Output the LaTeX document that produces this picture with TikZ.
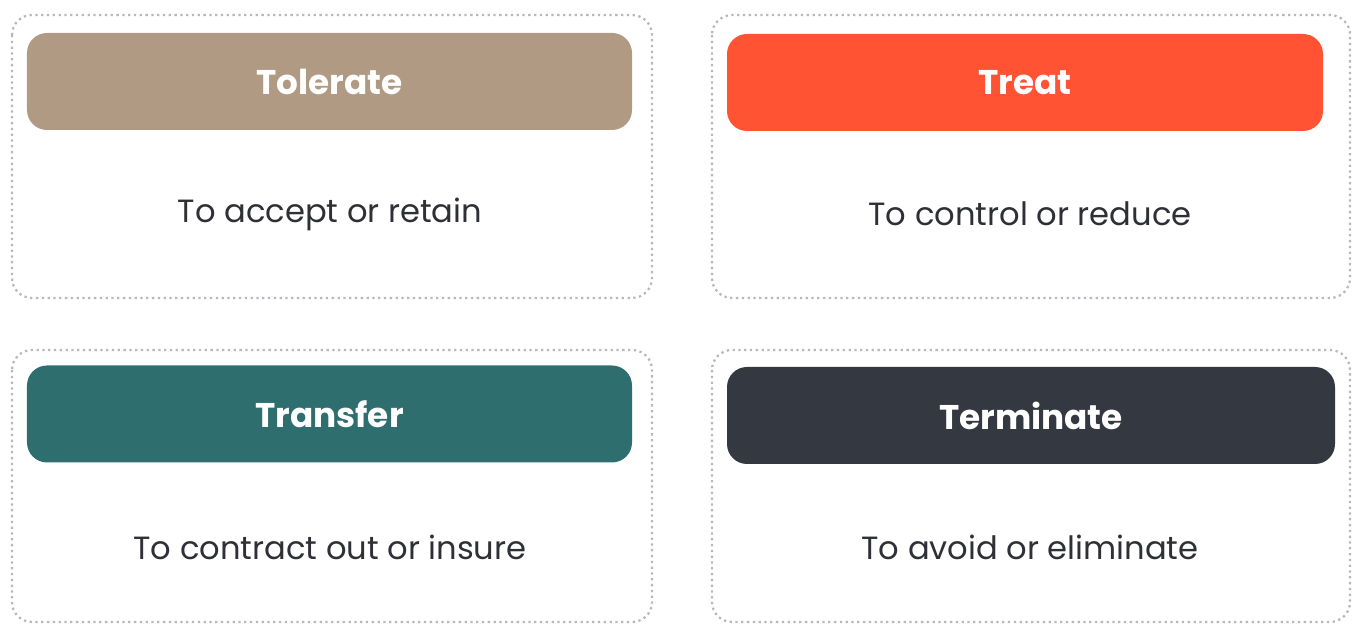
\documentclass[tikz,border=0pt]{standalone}
\usepackage{fontspec}
\setmainfont{Poppins}
\usepackage{tikz}
\usepackage{xcolor}

\definecolor{dotgray}{HTML}{B4B8C0}
\definecolor{txtgray}{HTML}{2E3036}
\definecolor{tolbrown}{HTML}{B09A84}
\definecolor{treatred}{HTML}{FF5334}
\definecolor{transteal}{HTML}{2F6E6E}
\definecolor{termdark}{HTML}{343841}

\tikzset{
  card/.style={draw=dotgray, dotted, line width=1.3pt, rounded corners=0.4cm},
  head/.style={rounded corners=0.4cm, minimum height=1.94cm, inner sep=0pt, text=white, font=\bfseries\fontsize{19.5}{22}\selectfont},
  body/.style={text=txtgray, font=\fontsize{18.3}{21}\selectfont}
}

\begin{document}
\begin{tikzpicture}
\useasboundingbox (0,0) rectangle (27.14,12.48);

% top row
\draw[card] (0.24,12.18) rectangle (13.04,6.52);
\node[head, fill=tolbrown, minimum width=12.1cm] (tolerate) at (6.59,10.85) {Tolerate};
\node[body] (accept) at (6.6,8.2) {To accept or retain};

\draw[card] (14.24,12.18) rectangle (27.0,6.52);
\node[head, fill=treatred, minimum width=11.92cm] (treat) at (20.5,10.83) {Treat};
\node[body] (control) at (20.6,8.2) {To control or reduce};

% bottom row
\draw[card] (0.24,5.48) rectangle (13.04,0.04);
\node[head, fill=transteal, minimum width=12.1cm] (transfer) at (6.59,4.2) {Transfer};
\node[body] (contract) at (6.6,1.54) {To contract out or insure};

\draw[card] (14.24,5.48) rectangle (27.0,0.04);
\node[head, fill=termdark, minimum width=12.16cm] (terminate) at (20.62,4.17) {Terminate};
\node[body] (avoid) at (20.6,1.54) {To avoid or eliminate};
\end{tikzpicture}
\end{document}
